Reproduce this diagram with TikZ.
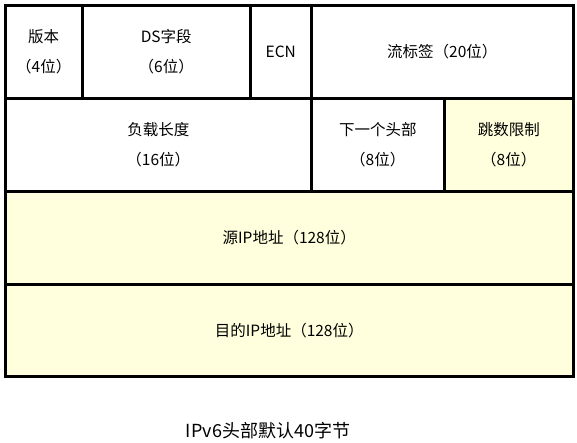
\documentclass[tikz,border=0pt]{standalone}
\usepackage{fontspec}
\setmainfont{Noto Sans CJK SC}
\definecolor{hdrfill}{RGB}{255,255,221}
\begin{document}
\begin{tikzpicture}[x=1pt,y=-1pt,line join=miter]
\tikzset{
  cell/.style={draw=black,line width=2.5pt,fill=white,inner sep=0pt,anchor=north west,
    align=center,font=\fontsize{15.5}{30}\selectfont,minimum height=93pt},
  tinted/.style={cell,fill=hdrfill},
  caption/.style={font=\fontsize{18}{20}\selectfont}
}
\useasboundingbox (0,0) rectangle (577,442);
% first row
\node[cell,minimum width=77pt]  (ver)  at (4,4)   {版本\\（4位）};
\node[cell,minimum width=168pt] (ds)   at (81,4)  {DS字段\\（6位）};
\node[cell,minimum width=61pt]  (ecn)  at (249,4) {ECN};
\node[cell,minimum width=262pt] (flow) at (310,4) {流标签（20位）};
% second row
\node[cell,minimum width=306pt]   (len)  at (4,97)   {负载长度\\（16位）};
\node[cell,minimum width=133pt]   (next) at (310,97) {下一个头部\\（8位）};
\node[tinted,minimum width=129pt] (hop)  at (443,97) {跳数限制\\（8位）};
% addresses
\node[tinted,minimum width=568pt] (src) at (4,190) {源IP地址（128位）};
\node[tinted,minimum width=568pt,minimum height=92pt] (dst) at (4,283) {目的IP地址（128位）};
\node[caption] (cap) at (268,431) {IPv6头部默认40字节};
\end{tikzpicture}
\end{document}
